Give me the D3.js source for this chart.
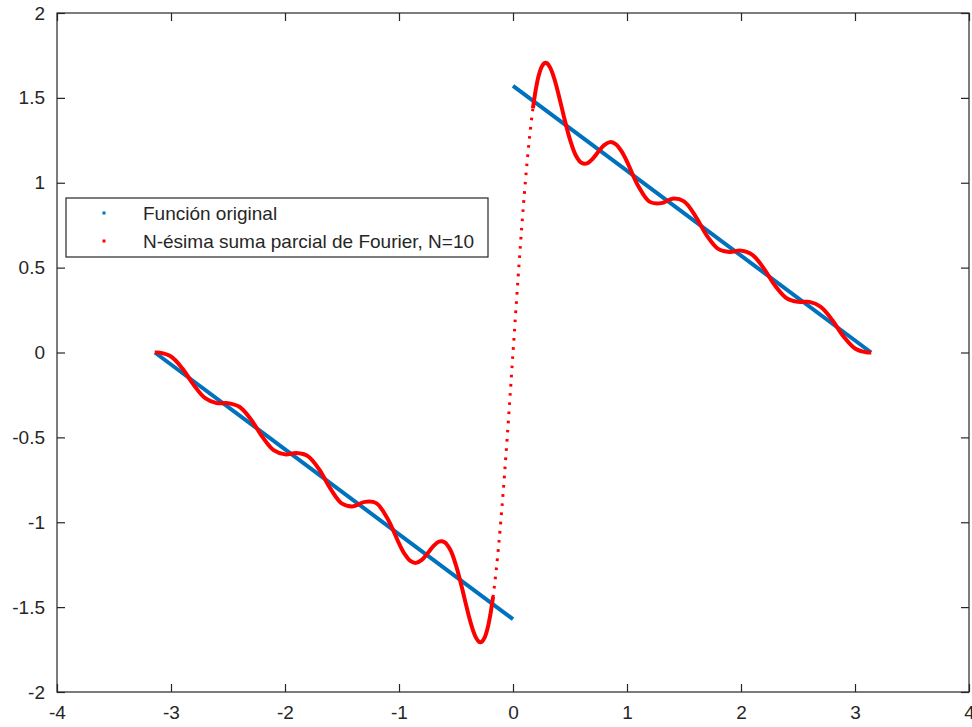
<!DOCTYPE html>
<html>
<head>
<meta charset="utf-8">
<script src="https://cdn.jsdelivr.net/npm/d3@7/dist/d3.min.js"></script>
<style>
  html, body { margin: 0; padding: 0; background: #ffffff; }
  svg { display: block; }
  text { font-family: "Liberation Sans", Arial, Helvetica, sans-serif; fill: #262626; }
</style>
</head>
<body>
<svg id="chart" width="972" height="727"></svg>
<script>
// ---------------- data ----------------
const xTickValues = [-4, -3, -2, -1, 0, 1, 2, 3, 4];
const xTickLabels = ["-4", "-3", "-2", "-1", "0", "1", "2", "3", "4"];
const yTickValues = [-2, -1.5, -1, -0.5, 0, 0.5, 1, 1.5, 2];
const yTickLabels = ["-2", "-1.5", "-1", "-0.5", "0", "0.5", "1", "1.5", "2"];

const seriesNames = ["Función original", "N-ésima suma parcial de Fourier, N=10"];

// original function: two straight pieces
const originalLeftX = [-3.1416, 0];
const originalLeftY = [0, -1.5708];
const originalRightX = [0, 3.1416];
const originalRightY = [1.5708, 0];

// partial Fourier sum, N = 10
const fourierX = [
  -3.1416, -3.1, -3.0, -2.9, -2.8, -2.7, -2.6, -2.5, -2.4, -2.3, -2.2, -2.1, -2.0,
  -1.9, -1.8, -1.7, -1.6, -1.5, -1.4, -1.3, -1.2, -1.1, -1.0, -0.95, -0.9, -0.85,
  -0.8, -0.75, -0.7, -0.65, -0.6, -0.55, -0.5, -0.45, -0.425, -0.4, -0.375, -0.35,
  -0.325, -0.3, -0.2856, -0.275, -0.25, -0.225, -0.2, -0.175, -0.15, -0.125, -0.1,
  -0.075, -0.05, -0.025, 0,
  0.025, 0.05, 0.075, 0.1, 0.125, 0.15, 0.175, 0.2, 0.225, 0.25, 0.275, 0.2856,
  0.3, 0.325, 0.35, 0.375, 0.4, 0.425, 0.45, 0.5, 0.55, 0.6, 0.65, 0.7, 0.75, 0.8,
  0.85, 0.9, 0.95, 1.0, 1.1, 1.2, 1.3, 1.4, 1.5, 1.6, 1.7, 1.8, 1.9, 2.0, 2.1, 2.2,
  2.3, 2.4, 2.5, 2.6, 2.7, 2.8, 2.9, 3.0, 3.1, 3.1416
];
const fourierY = [
  0, -0.0006, -0.0233, -0.0938, -0.1919, -0.2694, -0.2980, -0.2981, -0.3199, -0.3929,
  -0.4957, -0.5755, -0.6002, -0.5926, -0.6103, -0.6889, -0.8039, -0.8902, -0.9064,
  -0.8800, -0.8873, -0.9792, -1.1245, -1.1876, -1.2281, -1.2393, -1.2218, -1.1843,
  -1.1421, -1.1140, -1.1173, -1.1623, -1.2540, -1.3803, -1.4498, -1.5188, -1.5831,
  -1.6381, -1.6796, -1.7031, -1.7070, -1.7048, -1.6813, -1.6300, -1.5494, -1.4388,
  -1.2988, -1.1309, -0.9379, -0.7234, -0.4920, -0.2490, 0,
  0.2490, 0.4920, 0.7234, 0.9379, 1.1309, 1.2988, 1.4388, 1.5494, 1.6300, 1.6813,
  1.7048, 1.7070, 1.7031, 1.6796, 1.6381, 1.5831, 1.5188, 1.4498, 1.3803, 1.2540,
  1.1623, 1.1173, 1.1140, 1.1421, 1.1843, 1.2218, 1.2393, 1.2281, 1.1876, 1.1245,
  0.9792, 0.8873, 0.8800, 0.9064, 0.8902, 0.8039, 0.6889, 0.6103, 0.5926, 0.6002,
  0.5755, 0.4957, 0.3929, 0.3199, 0.2981, 0.2980, 0.2694, 0.1919, 0.0938, 0.0233,
  0.0006, 0
];

// ---------------- layout ----------------
const W = 972, H = 727;
const plot = { left: 57, right: 969, top: 13, bottom: 692 };
const BLUE = "#0072BD", RED = "#FF0000", AXIS = "#262626";

const svg = d3.select("#chart");
svg.append("rect").attr("width", W).attr("height", H).attr("fill", "#ffffff");

const x = d3.scaleLinear().domain([-4, 4]).range([plot.left, plot.right]);
const y = d3.scaleLinear().domain([-2, 2]).range([plot.bottom, plot.top]);

const tickLen = 8;
const fontSize = 19;

// axes (box with inward ticks on all sides)
const gAx = svg.append("g");
const bottomAxis = d3.axisBottom(x).tickValues(xTickValues).tickSize(-tickLen).tickPadding(14)
  .tickFormat((d, i) => xTickLabels[i]);
const topAxis = d3.axisTop(x).tickValues(xTickValues).tickSize(-tickLen).tickFormat(() => "");
const leftAxis = d3.axisLeft(y).tickValues(yTickValues).tickSize(-tickLen).tickPadding(12)
  .tickFormat((d, i) => yTickLabels[i]);
const rightAxis = d3.axisRight(y).tickValues(yTickValues).tickSize(-tickLen).tickFormat(() => "");

function styleAxis(g) {
  g.selectAll("path.domain").attr("stroke", AXIS).attr("stroke-width", 1.2);
  g.selectAll(".tick line").attr("stroke", AXIS).attr("stroke-width", 1.2);
  g.selectAll(".tick text").attr("fill", AXIS).style("font-size", fontSize + "px")
    .style("font-family", '"Liberation Sans", Arial, Helvetica, sans-serif');
}
gAx.append("g").attr("transform", `translate(0,${plot.bottom})`).call(bottomAxis).call(styleAxis);
gAx.append("g").attr("transform", `translate(0,${plot.top})`).call(topAxis).call(styleAxis);
gAx.append("g").attr("transform", `translate(${plot.left},0)`).call(leftAxis).call(styleAxis);
gAx.append("g").attr("transform", `translate(${plot.right},0)`).call(rightAxis).call(styleAxis);
gAx.selectAll("path.domain").attr("d", null);
gAx.append("rect")
  .attr("x", plot.left).attr("y", plot.top)
  .attr("width", plot.right - plot.left).attr("height", plot.bottom - plot.top)
  .attr("fill", "none").attr("stroke", AXIS).attr("stroke-width", 1.2);

// ---------------- series ----------------
const gData = svg.append("g");
const line = d3.line().x(d => x(d.x)).y(d => y(d.y));

const origLeft = originalLeftX.map((v, i) => ({ x: v, y: originalLeftY[i] }));
const origRight = originalRightX.map((v, i) => ({ x: v, y: originalRightY[i] }));
[origLeft, origRight].forEach(seg => {
  gData.append("path").datum(seg).attr("d", line)
    .attr("fill", "none").attr("stroke", BLUE).attr("stroke-width", 4);
});

const fourier = fourierX.map((v, i) => ({ x: v, y: fourierY[i] }));
const curve = d3.line().x(d => x(d.x)).y(d => y(d.y)).curve(d3.curveCatmullRom.alpha(0.5));
const leftPart = fourier.filter(d => d.x <= -0.175);
const rightPart = fourier.filter(d => d.x >= 0.175);
const midPart = fourier.filter(d => d.x >= -0.2 && d.x <= 0.2);

gData.append("path").datum(midPart).attr("d", curve)
  .attr("fill", "none").attr("stroke", RED).attr("stroke-width", 3)
  .attr("stroke-dasharray", "2.6,6.6");
[leftPart, rightPart].forEach(seg => {
  gData.append("path").datum(seg).attr("d", curve)
    .attr("fill", "none").attr("stroke", RED).attr("stroke-width", 4)
    .attr("stroke-linejoin", "round");
});

// ---------------- legend ----------------
const legend = svg.append("g");
const lg = { x: 66, y: 198, w: 422, h: 59 };
legend.append("rect").attr("x", lg.x).attr("y", lg.y).attr("width", lg.w).attr("height", lg.h)
  .attr("fill", "#ffffff").attr("stroke", AXIS).attr("stroke-width", 1.2);
const legendColors = [BLUE, RED];
seriesNames.forEach((name, i) => {
  const cy = lg.y + 15 + i * 28;
  legend.append("rect").attr("x", 102.5).attr("y", cy - 1.5).attr("width", 3).attr("height", 3)
    .attr("fill", legendColors[i]);
  legend.append("text").attr("x", 143).attr("y", cy).attr("dy", "0.35em")
    .style("font-size", fontSize + "px").text(name);
});
</script>
</body>
</html>
